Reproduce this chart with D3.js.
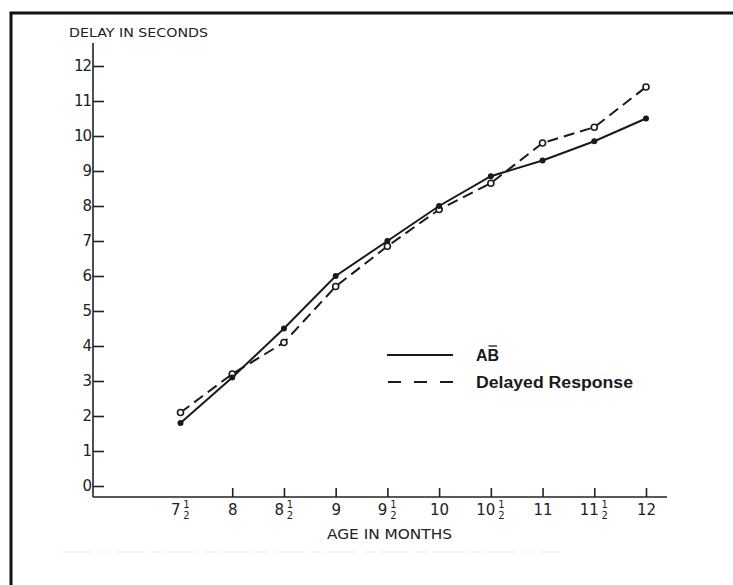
<!DOCTYPE html>
<html>
<head>
<meta charset="utf-8">
<script src="https://cdn.jsdelivr.net/npm/d3@7"></script>
<style>
  body { margin: 0; background: #fff; }
  svg { display: block; }
  .lettering { font-family: "DejaVu Sans", sans-serif; fill: #222; }
</style>
</head>
<body>
<div id="chart"></div>
<script>
/* delay vs age chart, redrawn from the scanned figure */

// ages in months (x) and delays in seconds (y)
let ages = [7.5, 8, 8.5, 9, 9.5, 10, 10.5, 11, 11.5, 12];
let abDelay = [1.8, 3.1, 4.5, 6.0, 7.0, 8.0, 8.85, 9.3, 9.85, 10.5];
let drDelay = [2.1, 3.2, 4.1, 5.7, 6.85, 7.9, 8.65, 9.8, 10.25, 11.4];
let yTicks = [0, 1, 2, 3, 4, 5, 6, 7, 8, 9, 10, 11, 12];
let xTickLabels = [["7", "1", "2"], ["8"], ["8", "1", "2"], ["9"], ["9", "1", "2"],
                   ["10"], ["10", "1", "2"], ["11"], ["11", "1", "2"], ["12"]];
let legendNames = ["AB", "Delayed Response"];

let width = 733, height = 585;
let axisX = 93, axisY = 497;

let svg = d3.select("#chart")
    .append("svg")
    .attr("width", width)
    .attr("height", height);

let x = d3.scaleLinear().domain([7.5, 12]).range([180.5, 646]);
let y = d3.scaleLinear().domain([0, 12]).range([486, 66]);

// frame of the scanned page
svg.append("path")
    .attr("d", "M11," + height + "V13H" + width)
    .attr("fill", "none")
    .attr("stroke", "#111")
    .attr("stroke-width", 3);

// faint caption remnant under the chart
svg.append("line")
    .attr("x1", 62).attr("x2", 560)
    .attr("y1", 552).attr("y2", 552)
    .attr("stroke", "#eeeeee")
    .attr("stroke-width", 1.2)
    .attr("stroke-dasharray", "30,6,12,5");

// ****** axes **************
svg.append("line")
    .attr("x1", axisX).attr("x2", axisX)
    .attr("y1", 43).attr("y2", axisY)
    .attr("stroke", "#222").attr("stroke-width", 1.6);
svg.append("line")
    .attr("x1", axisX).attr("x2", 667)
    .attr("y1", axisY).attr("y2", axisY)
    .attr("stroke", "#222").attr("stroke-width", 1.6);

let yAxis = svg.append("g")
    .attr("transform", "translate(" + axisX + ",0)")
    .call(d3.axisLeft(y).tickValues(yTicks).tickSizeInner(-11).tickSizeOuter(0).tickPadding(2));
yAxis.select(".domain").remove();
yAxis.selectAll(".tick line").attr("stroke", "#222").attr("stroke-width", 1.6);
yAxis.selectAll(".tick text")
    .attr("class", "lettering")
    .attr("font-size", 15)
    .attr("letter-spacing", -1)
    .attr("fill", "#222");

let xAxis = svg.append("g")
    .attr("transform", "translate(0," + axisY + ")")
    .call(d3.axisBottom(x).tickValues(ages).tickSizeInner(-9).tickSizeOuter(0).tickFormat(""));
xAxis.select(".domain").remove();
xAxis.selectAll(".tick line")
    .attr("stroke", "#222").attr("stroke-width", 1.6)
    .attr("opacity", function (d) { return d === 7.5 ? 0 : 1; });

// tick labels with stacked halves
xAxis.selectAll(".tick").each(function (d, i) {
    let lab = xTickLabels[i];
    let g = d3.select(this);
    let whole = g.append("text")
        .attr("class", "lettering")
        .attr("font-size", 15)
        .attr("y", 18)
        .text(lab[0]);
    if (lab.length === 1) {
        whole.attr("text-anchor", "middle");
        return;
    }
    let w = lab[0].length * 9;
    let left = -(w + 10) / 2;
    whole.attr("text-anchor", "end").attr("x", left + w);
    g.append("text")
        .attr("class", "lettering")
        .attr("font-size", 10)
        .attr("x", left + w + 6)
        .attr("y", 11)
        .attr("text-anchor", "middle")
        .text(lab[1]);
    g.append("text")
        .attr("class", "lettering")
        .attr("font-size", 10)
        .attr("x", left + w + 6)
        .attr("y", 22)
        .attr("text-anchor", "middle")
        .text(lab[2]);
});

svg.append("text")
    .attr("class", "lettering")
    .attr("x", 69).attr("y", 37)
    .attr("font-size", 13)
    .attr("textLength", 139)
    .attr("lengthAdjust", "spacingAndGlyphs")
    .text("DELAY IN SECONDS");

svg.append("text")
    .attr("class", "lettering")
    .attr("x", 327).attr("y", 539)
    .attr("font-size", 13.5)
    .attr("textLength", 125)
    .attr("lengthAdjust", "spacingAndGlyphs")
    .text("AGE IN MONTHS");

// ****** series **************
let line = d3.line()
    .x(function (d) { return x(d[0]); })
    .y(function (d) { return y(d[1]); });

let abPts = ages.map(function (a, i) { return [a, abDelay[i]]; });
let drPts = ages.map(function (a, i) { return [a, drDelay[i]]; });

svg.append("path")
    .datum(drPts)
    .attr("d", line)
    .attr("fill", "none")
    .attr("stroke", "#1a1a1a")
    .attr("stroke-width", 2)
    .attr("stroke-dasharray", "11,6");

svg.append("path")
    .datum(abPts)
    .attr("d", line)
    .attr("fill", "none")
    .attr("stroke", "#1a1a1a")
    .attr("stroke-width", 2);

svg.append("g").selectAll("circle")
    .data(drPts)
    .enter()
    .append("circle")
    .attr("cx", function (d) { return x(d[0]); })
    .attr("cy", function (d) { return y(d[1]); })
    .attr("r", 3)
    .attr("fill", "#fff")
    .attr("stroke", "#1a1a1a")
    .attr("stroke-width", 1.6);

svg.append("g").selectAll("circle")
    .data(abPts)
    .enter()
    .append("circle")
    .attr("cx", function (d) { return x(d[0]); })
    .attr("cy", function (d) { return y(d[1]); })
    .attr("r", 3)
    .attr("fill", "#1a1a1a");

// ****** legend **************
let legend = svg.append("g");
legend.append("line")
    .attr("x1", 387).attr("x2", 453)
    .attr("y1", 355).attr("y2", 355)
    .attr("stroke", "#1a1a1a").attr("stroke-width", 2);
legend.append("line")
    .attr("x1", 388).attr("x2", 455)
    .attr("y1", 382).attr("y2", 382)
    .attr("stroke", "#1a1a1a").attr("stroke-width", 2)
    .attr("stroke-dasharray", "13,13");

legend.append("text")
    .attr("x", 476).attr("y", 361)
    .attr("font-family", "Liberation Sans, Arial, sans-serif")
    .attr("font-weight", "bold")
    .attr("font-size", 16)
    .attr("fill", "#1a1a1a")
    .text(legendNames[0]);
// bar over the B
legend.append("line")
    .attr("x1", 488.5).attr("x2", 497)
    .attr("y1", 346).attr("y2", 346)
    .attr("stroke", "#1a1a1a").attr("stroke-width", 1.3);

legend.append("text")
    .attr("x", 476).attr("y", 388)
    .attr("font-family", "Liberation Sans, Arial, sans-serif")
    .attr("font-weight", "bold")
    .attr("font-size", 16)
    .attr("textLength", 157)
    .attr("lengthAdjust", "spacingAndGlyphs")
    .attr("fill", "#1a1a1a")
    .text(legendNames[1]);
</script>
</body>
</html>
